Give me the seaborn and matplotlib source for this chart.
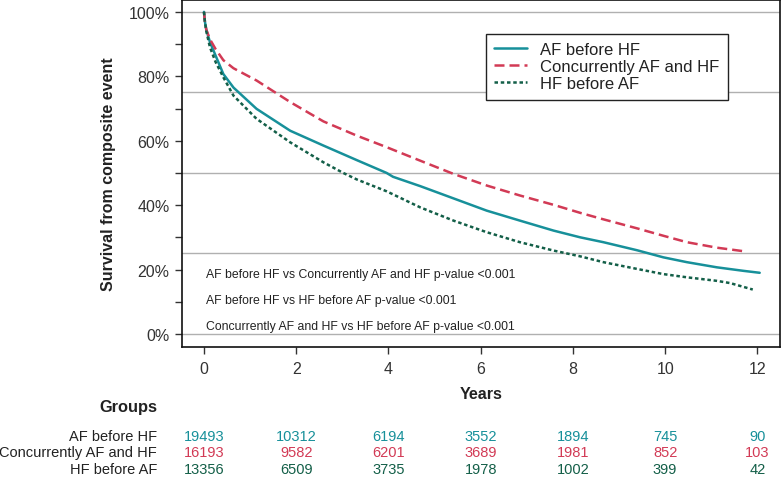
import pandas as pd
import matplotlib
matplotlib.use("Agg")
import matplotlib.pyplot as plt
import matplotlib.transforms as mtransforms
import seaborn as sns

# Kaplan-Meier style curves (years, survival %)
af_hf_years = [0, 0.02, 0.05, 0.13, 0.25, 0.42, 0.64, 1.14, 1.87, 2.59, 3.31, 3.96, 4.1,
               4.69, 5.41, 6.13, 6.85, 7.58, 8.16, 8.66, 9.39, 9.96, 10.47, 11.12, 11.7, 12.05]
af_hf_surv = [100, 97, 94.5, 90.6, 86.5, 80.7, 76.5, 69.9, 63.1, 58.5, 54.0, 50.0, 48.8,
              45.9, 42.1, 38.3, 35.2, 32.1, 30.0, 28.5, 26.0, 23.8, 22.3, 20.7, 19.6, 19.0]

conc_years = [0, 0.02, 0.05, 0.13, 0.25, 0.42, 0.64, 1.14, 1.87, 2.59, 3.31, 3.96,
              4.69, 5.41, 6.13, 6.85, 7.58, 8.16, 8.66, 9.39, 9.96, 10.47, 11.12, 11.7]
conc_surv = [100, 97, 94.5, 91.5, 88.5, 85.0, 82.5, 78.7, 72.0, 66.0, 61.6, 58.0,
             53.8, 49.7, 46.1, 43.0, 40.1, 37.6, 35.6, 32.8, 30.5, 28.5, 26.8, 25.7]

hf_af_years = [0, 0.02, 0.05, 0.13, 0.25, 0.42, 0.64, 1.14, 1.87, 2.59, 3.02, 3.31, 3.96,
               4.69, 5.41, 6.13, 6.85, 7.58, 8.16, 8.66, 9.39, 9.96, 10.47, 11.12, 11.41, 11.9]
hf_af_surv = [100, 97, 94, 89, 84.5, 79.7, 74.0, 66.8, 59.5, 53.3, 50.0, 48.0, 44.3,
              39.3, 35.2, 31.6, 28.5, 25.9, 24.1, 22.3, 20.2, 18.6, 17.6, 16.5, 15.8, 13.8]

groups = ["AF before HF", "Concurrently AF and HF", "HF before AF"]
colors = ["#17909a", "#d23a55", "#135f48"]

# numbers at risk
risk_years = [0, 2, 4, 6, 8, 10, 12]
risk_af_hf = [19493, 10312, 6194, 3552, 1894, 745, 90]
risk_conc = [16193, 9582, 6201, 3689, 1981, 852, 103]
risk_hf_af = [13356, 6509, 3735, 1978, 1002, 399, 42]

pvalue_notes = [
    "AF before HF vs Concurrently AF and HF p-value <0.001",
    "AF before HF vs HF before AF p-value <0.001",
    "Concurrently AF and HF vs HF before AF p-value <0.001",
]

sns.set_style("ticks")
plt.rcParams["font.family"] = ["Liberation Sans", "DejaVu Sans"]

fig = plt.figure(figsize=(7.81, 4.81), dpi=100)
ax = fig.add_axes([0.233, 0.2765, 0.7657, 0.7215])

for y in [0, 25, 50, 75, 100]:
    ax.axhline(y, color="#b0b0b0", lw=1, zorder=0)

curves = [(af_hf_years, af_hf_surv), (conc_years, conc_surv), (hf_af_years, hf_af_surv)]
styles = ["-", (0, (4, 2)), (0, (1.4, 1.1))]
for (yrs, surv), name, col, ls in zip(curves, groups, colors, styles):
    d = pd.DataFrame({"Years": yrs, "Survival": surv})
    sns.lineplot(data=d, x="Years", y="Survival", ax=ax, color=col, linestyle=ls,
                 lw=1.8, label=name, estimator=None)

ax.set_xlim(-0.477, 12.49)
ax.set_ylim(-4.04, 103.7)
ax.set_xticks([0, 2, 4, 6, 8, 10, 12])
ax.set_yticks([0, 20, 40, 60, 80, 100])
ax.set_yticklabels([f"{v}%" for v in [0, 20, 40, 60, 80, 100]])
ax.set_yticks([10, 30, 50, 70, 90], minor=True)
ax.tick_params(axis="both", which="both", length=5, width=1, color="#333333",
               labelsize=11.5, labelcolor="#333333")
ax.tick_params(axis="y", pad=4)
ax.tick_params(axis="x", pad=5)
for sp in ax.spines.values():
    sp.set_color("#111111")
    sp.set_linewidth(1.2)

ax.set_xlabel("Years", fontsize=11.6, fontweight="bold", color="#222222")
ax.set_ylabel("Survival from composite event", fontsize=11.5, fontweight="bold", color="#222222")
ax.xaxis.set_label_coords(0.5, -0.111)
ax.yaxis.set_label_coords(-0.111, 0.5)

leg = ax.legend(loc="upper left", bbox_to_anchor=(0.508, 0.902), borderaxespad=0,
                fontsize=12, frameon=True, fancybox=False, framealpha=1,
                edgecolor="#222222", handlelength=2.0, handletextpad=0.75,
                labelspacing=0.12, borderpad=0.5)
leg.get_frame().set_linewidth(1)
for t in leg.get_texts():
    t.set_color("#222222")

for i, note in enumerate(pvalue_notes):
    ax.text(0.04, 0.21 - i * 0.075, note, transform=ax.transAxes, fontsize=8.8,
            color="#222222", va="center", ha="left")

# at-risk table under the axis
trans = mtransforms.blended_transform_factory(ax.transData, fig.transFigure)
fig.text(0.201, 0.152, "Groups", ha="right", va="center", fontsize=11.8,
         fontweight="bold", color="#222222")
row_y = [0.0905, 0.0572, 0.0219]
for name, col, counts, yy in zip(groups, colors, [risk_af_hf, risk_conc, risk_hf_af], row_y):
    fig.text(0.201, yy, name, ha="right", va="center", fontsize=10.5, color="#222222")
    for x, n in zip(risk_years, counts):
        ax.text(x, yy, str(n), transform=trans, ha="center", va="center",
                fontsize=10.5, color=col)

fig.savefig("out.png", dpi=100)
